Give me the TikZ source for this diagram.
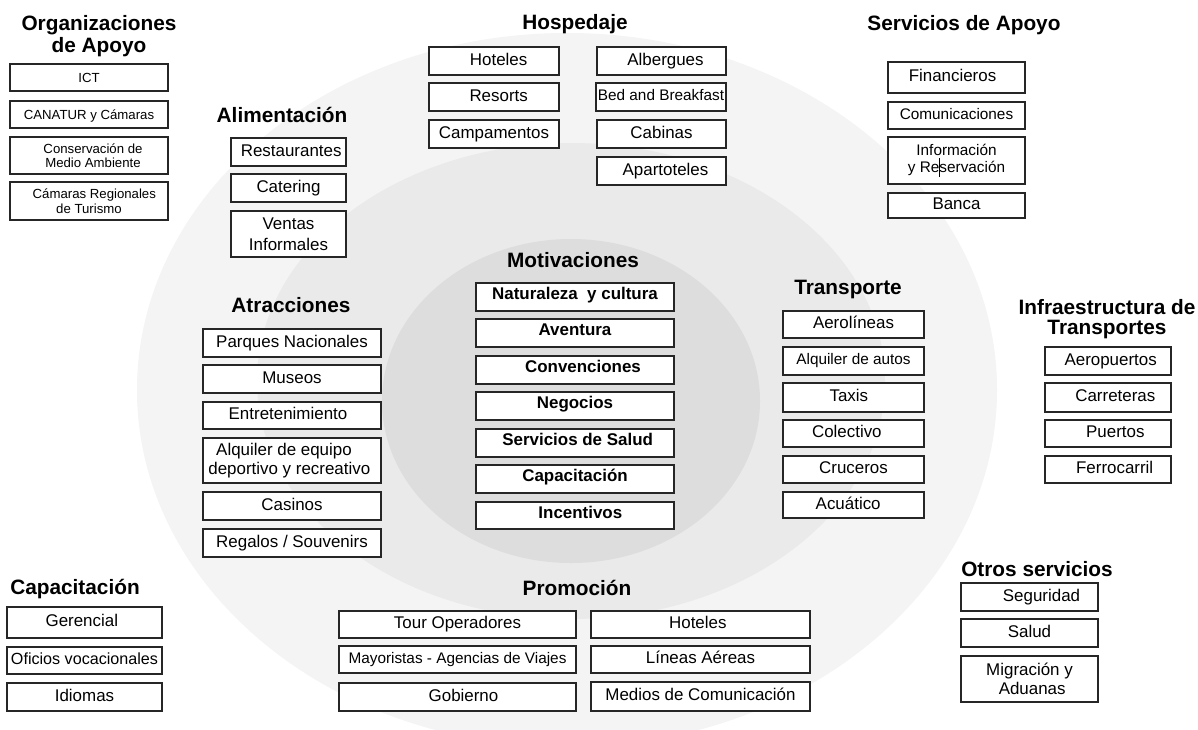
\documentclass[tikz,border=0pt]{standalone}
\usepackage{fontspec}
\setmainfont{Liberation Sans}
\definecolor{discA}{HTML}{F4F4F4}
\definecolor{discB}{HTML}{EAEAEA}
\definecolor{discC}{HTML}{DDDDDD}
% box from its pixel corners (x1,y1)-(x2,y2)
\newcommand\putbox[7][]{%
  \pgfmathsetmacro\bxw{(#5-#3)*0.75}%
  \pgfmathsetmacro\bxh{(#6-#4)*0.75}%
  \node[box,#1,minimum width=\bxw pt,minimum height=\bxh pt] (#2) at ({(#3+#5)/2},{(#4+#6)/2}) {#7};}
% small horizontal offset of a label inside its box
\newcommand\lpad[1]{\hspace*{#1pt}}
\begin{document}
\begin{tikzpicture}[x=0.75pt,y=-0.75pt,
  box/.style={draw=black!85, line width=1.1pt, fill=white, inner sep=0pt, align=center,
    font=\fontsize{12.7}{14}\selectfont, text height=9.2pt, text depth=2.6pt},
  twoline/.style={text height={}, text depth={}},
  small/.style={font=\fontsize{11.5}{13}\selectfont, text height=8.3pt, text depth=2.4pt},
  tiny/.style={font=\fontsize{9.9}{10.8}\selectfont, text height=7.1pt, text depth=0pt},
  mot/.style={font=\bfseries\fontsize{12.7}{14}\selectfont, text height=9.2pt, text depth=5pt},
  ttl/.style={font=\bfseries\fontsize{15.6}{16.5}\selectfont, align=center, inner sep=0pt}]
\useasboundingbox (0,0) rectangle (1198,729);
\fill[white] (0,0) rectangle (1198,729);

% concentric discs
\fill[discA] (567,390) ellipse [x radius=322.5pt, y radius=267.75pt];
\fill[discB] (571,381) ellipse [x radius=235.5pt, y radius=178.5pt];
\fill[discC] (571,401) ellipse [x radius=141.75pt, y radius=121.5pt];

% titles
\node[ttl] (tOrg) at (99,36) {Organizaciones\\de Apoyo};
\node[ttl] (tAli) at (282,115) {Alimentación};
\node[ttl] (tHos) at (575,24) {Hospedaje};
\node[ttl] (tSer) at (964,25) {Servicios de Apoyo};
\node[ttl] (tMot) at (573,260) {Motivaciones};
\node[ttl] (tAtr) at (291,305) {Atracciones};
\node[ttl] (tTra) at (848,289) {Transporte};
\node[ttl, font=\bfseries\fontsize{15.6}{14.5}\selectfont] (tInf) at (1107,319) {Infraestructura de\\Transportes};
\node[ttl] (tCap) at (75,589) {Capacitación};
\node[ttl] (tPro) at (577,588) {Promoción};
\node[ttl] (tOtr) at (1037,569) {Otros servicios};

% Organizaciones de Apoyo
\putbox[tiny]{o1}{10}{64}{168}{91}{ICT}
\putbox[tiny]{o2}{10}{101}{168}{128}{CANATUR y Cámaras}
\putbox[tiny,twoline]{o3}{10}{137}{168}{174}{\lpad{6}Conservación de\\\lpad{6}Medio Ambiente}
\putbox[tiny,twoline]{o4}{10}{182}{168}{220}{\lpad{8}Cámaras Regionales\\de Turismo}

% Alimentación
\putbox{a1}{231}{138}{346}{166}{\lpad{4}Restaurantes}
\putbox{a2}{231}{174}{346}{202}{Catering}
\putbox[twoline,font=\fontsize{12.7}{16}\selectfont]{a3}{231}{211}{346}{257}{Ventas\\Informales}

% Hospedaje
\putbox{h1}{429}{47}{559}{75}{\lpad{7}Hoteles}
\putbox{h2}{429}{83}{559}{111}{\lpad{7}Resorts}
\putbox{h3}{429}{120}{559}{148}{Campamentos}
\putbox{h4}{597}{47}{726}{75}{\lpad{6}Albergues}
\putbox[small]{h5}{596}{83}{726}{111}{Bed and Breakfast}
\putbox{h6}{597}{120}{726}{148}{Cabinas}
\putbox{h7}{597}{157}{726}{185}{\lpad{6}Apartoteles}

% Servicios de Apoyo
\putbox{s1}{888}{62}{1025}{93}{Financieros\lpad{6}}
\putbox[small]{s2}{888}{102}{1025}{129}{Comunicaciones}
\putbox[small,twoline]{s3}{888}{137}{1025}{184}{Información\\y Re\makebox[0pt]{\rule[-3pt]{0.7pt}{14pt}}servación}
\putbox{s4}{888}{193}{1025}{218}{Banca}

% Atracciones
\putbox{r1}{203}{329}{381}{357}{Parques Nacionales}
\putbox{r2}{203}{365}{381}{393}{Museos}
\putbox{r3}{203}{402}{381}{429}{Entretenimiento\lpad{6}}
\putbox[twoline,font=\fontsize{12.7}{13.8}\selectfont]{r4}{203}{438}{381}{483}{Alquiler de equipo\lpad{12}\\deportivo y recreativo\lpad{4}}
\putbox{r5}{203}{492}{381}{520}{Casinos}
\putbox{r6}{203}{529}{381}{557}{Regalos / Souvenirs}

% Motivaciones
\putbox[mot]{m1}{476}{283}{674}{311}{Naturaleza~ y cultura}
\putbox[mot]{m2}{476}{319}{674}{347}{Aventura}
\putbox[mot]{m3}{476}{356}{674}{384}{\lpad{12}Convenciones}
\putbox[mot]{m4}{476}{392}{674}{420}{Negocios}
\putbox[mot]{m5}{476}{429}{674}{457}{\lpad{4}Servicios de Salud}
\putbox[mot]{m6}{476}{465}{674}{493}{Capacitación}
\putbox[mot]{m7}{476}{502}{674}{529}{\lpad{8}Incentivos}

% Transporte
\putbox{t1}{783}{311}{924}{338}{Aerolíneas}
\putbox[small]{t2}{783}{347}{924}{375}{Alquiler de autos}
\putbox{t3}{783}{383}{924}{412}{Taxis\lpad{7}}
\putbox{t4}{783}{420}{924}{447}{Colectivo\lpad{10}}
\putbox{t5}{783}{456}{924}{483}{Cruceros}
\putbox{t6}{783}{492}{924}{518}{Acuático\lpad{8}}

% Infraestructura de Transportes
\putbox{i1}{1045}{347}{1171}{375}{\lpad{4}Aeropuertos}
\putbox{i2}{1045}{383}{1171}{412}{\lpad{11}Carreteras}
\putbox{i3}{1045}{420}{1171}{447}{\lpad{11}Puertos}
\putbox{i4}{1045}{456}{1171}{483}{\lpad{10}Ferrocarril}

% Capacitación
\putbox{c1}{7}{607}{162}{638}{Gerencial\lpad{4}}
\putbox[font=\fontsize{12.1}{14}\selectfont]{c2}{7}{647}{162}{674}{Oficios vocacionales}
\putbox{c3}{7}{683}{162}{711}{Idiomas}

% Promoción
\putbox{p1}{339}{611}{576}{638}{Tour Operadores}
\putbox[small]{p2}{339}{646}{576}{673}{Mayoristas - Agencias de Viajes}
\putbox{p3}{339}{683}{576}{711}{\lpad{9}Gobierno}
\putbox{p4}{591}{611}{810}{638}{Hoteles\lpad{4}}
\putbox{p5}{591}{646}{810}{673}{Líneas Aéreas}
\putbox{p6}{591}{682}{810}{711}{Medios de Comunicación}

% Otros servicios
\putbox{x1}{961}{583}{1098}{611}{\lpad{18}Seguridad}
\putbox{x2}{961}{619}{1098}{647}{Salud}
\putbox[twoline,font=\fontsize{12.7}{14}\selectfont]{x3}{961}{656}{1098}{702}{Migración y\\\lpad{4}Aduanas}
\end{tikzpicture}
\end{document}
